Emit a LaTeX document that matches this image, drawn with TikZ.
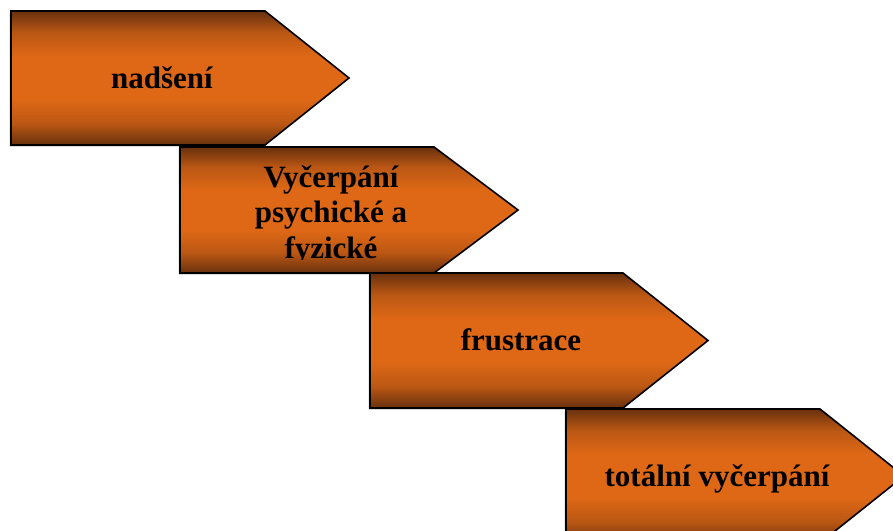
\documentclass[tikz,border=0pt]{standalone}
\usepackage{fontspec}
\setmainfont{Liberation Serif}
\definecolor{dk}{RGB}{104,48,14}
\definecolor{orc}{RGB}{222,104,22}
\pgfdeclareverticalshading{band}{100bp}{color(0bp)=(dk); color(25bp)=(dk); color(33bp)=(orc!70!dk); color(42bp)=(orc); color(58bp)=(orc); color(67bp)=(orc!70!dk); color(75bp)=(dk); color(100bp)=(dk)}
\tikzset{
  chevbox/.style={shading=band, draw=black, line width=1.6pt, line join=miter},
  chevshadow/.style={fill=gray!45, draw=none},
  lbl/.style={font=\bfseries\fontsize{31}{35.5}\selectfont, text=black, inner sep=0pt, align=center, anchor=base}
}
\newcommand\chevpath[5]{(#1,#2) -- (#3,#2) -- (#4,{(#2+#5)/2}) -- (#3,#5) -- (#1,#5) -- cycle}
\begin{document}
\begin{tikzpicture}[x=1pt,y=-1pt]
\clip (0,0) rectangle (893,530);
\fill[white] (0,0) rectangle (893,530);
% shape 1
\fill[chevshadow, shift={(-1.5,1.5)}] \chevpath{11}{11}{265}{349}{145};
\path[chevbox] \chevpath{11}{11}{265}{349}{145};
\begin{scope}
\clip \chevpath{11}{11}{265}{349}{145};
\node[lbl] (n1) at (162,88) {nadšení};
\end{scope}
% shape 2
\fill[chevshadow, shift={(-1.5,1.5)}] \chevpath{180}{147}{434}{518}{273};
\path[chevbox] \chevpath{180}{147}{434}{518}{273};
\begin{scope}
\clip \chevpath{180}{147}{434}{518}{273};
\clip (180,147) rectangle (518,259.5);
\node[lbl] (n2) at (331,258) {Vyčerpání\\psychické a\\fyzické};
\end{scope}
% shape 3
\fill[chevshadow, shift={(-1.5,1.5)}] \chevpath{370}{273}{623}{708}{408};
\path[chevbox] \chevpath{370}{273}{623}{708}{408};
\begin{scope}
\clip \chevpath{370}{273}{623}{708}{408};
\node[lbl] (n3) at (521,350) {frustrace};
\end{scope}
% shape 4
\fill[chevshadow, shift={(-1.5,1.5)}] \chevpath{566}{409}{820}{904}{543};
\path[chevbox] \chevpath{566}{409}{820}{904}{543};
\begin{scope}
\clip \chevpath{566}{409}{820}{904}{543};
\node[lbl] (n4) at (717,486) {totální vyčerpání};
\end{scope}
\end{tikzpicture}
\end{document}
